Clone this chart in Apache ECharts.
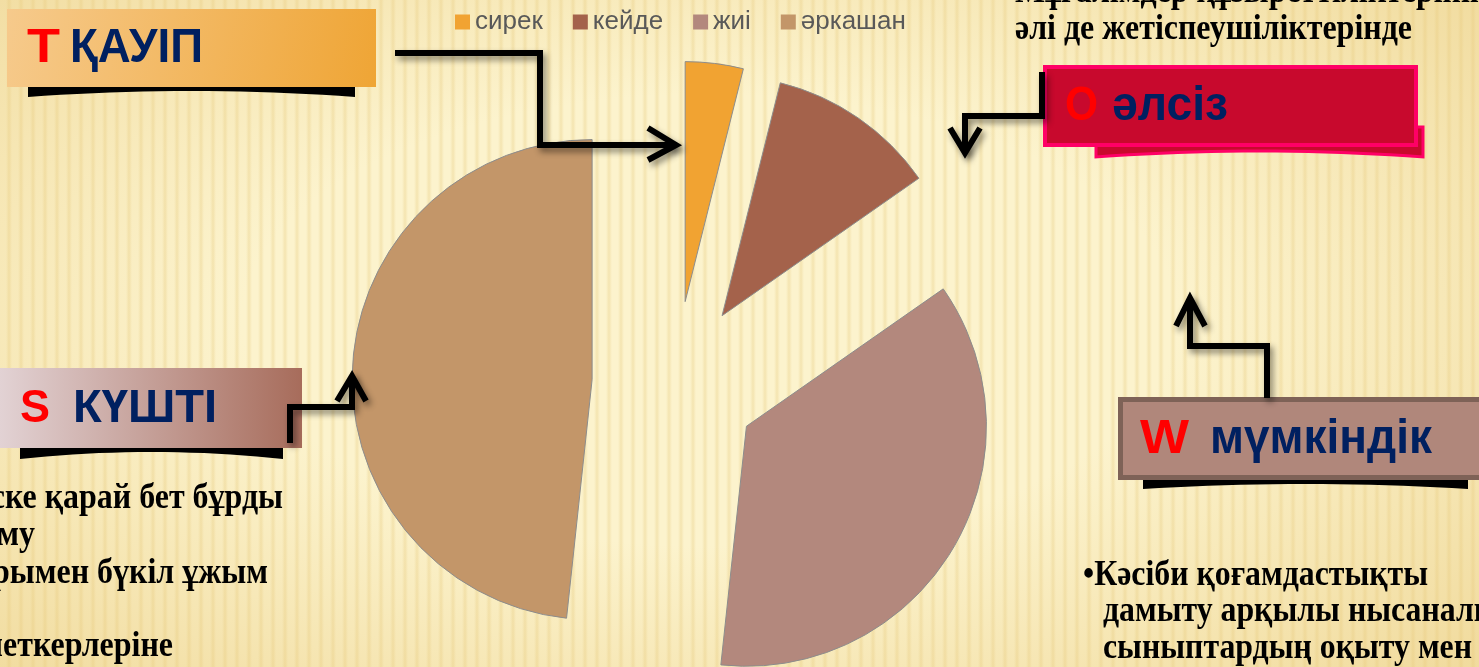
<!DOCTYPE html>
<html>
<head>
<meta charset="utf-8">
<title>SWOT</title>
<script src="https://cdn.jsdelivr.net/npm/echarts@6/dist/echarts.min.js"></script>
<style>
html, body { margin: 0; padding: 0; }
body {
  width: 1479px; height: 667px; overflow: hidden;
  background:
    radial-gradient(ellipse 70% 75% at 48% 48%, rgba(253,247,218,0) 45%, rgba(232,200,120,0.55) 100%),
    repeating-linear-gradient(90deg, #FCF3CD 0px, #FCF3CD 6px, #F4E4B0 9px, #FCF3CD 12px);
}
#chart { width: 1479px; height: 667px; }
</style>
</head>
<body>
<div id="chart"></div>
<script>
// данные диаграммы
var categories = ['сирек', 'кейде', 'жиі', 'әркашан'];
var shares = [3.9, 11.4, 36.4, 48.3];
var sliceColors = ['#F1A332', '#A4624B', '#B3887D', '#C39669'];

// тексты слайда
var topRightLines = ['Мұғалімдер құзыреттіліктерінің', 'әлі де жетіспеушіліктерінде'];
var bottomLeftLines = ['•Өзгеріске қарай бет бұрды', 'даму', 'жоспарымен бүкіл ұжым', 'қызметкерлеріне'];
var bottomRightLines = ['•Кәсіби қоғамдастықты', 'дамыту арқылы нысаналы', 'сыныптардың оқыту мен'];

var chart = echarts.init(document.getElementById('chart'));

var ctx = document.createElement('canvas').getContext('2d');
function measure(text, font) {
  ctx.font = font;
  return ctx.measureText(text).width;
}
function label(text, font, color, x, y, sx, align) {
  return {
    type: 'text', x: x, y: y, scaleX: sx, z: 120,
    style: { text: text, font: font, fill: color, align: align || 'left', verticalAlign: 'middle' }
  };
}
function fitLabel(text, font, color, x, y, width) {
  return label(text, font, color, x, y, width / measure(text, font));
}

var navy = '#002060';
var red = '#FF0000';
var serif = 'bold 36px "Liberation Serif"';
var sxTop = 397 / measure(topRightLines[1], serif);
var sxRight = 345 / measure(bottomRightLines[0], serif);

var arrowStyle = {
  stroke: '#000', lineWidth: 6, fill: null, lineJoin: 'miter',
  shadowBlur: 6, shadowOffsetX: 3, shadowOffsetY: 4, shadowColor: 'rgba(0,0,0,0.45)'
};
function arrow(points) {
  return { type: 'polyline', z: 110, shape: { points: points }, style: arrowStyle };
}
// полоса-тень под плашкой: верх прямой, низ выгнут
function curvedPoints(x1, x2, top, endBottom, midBottom) {
  var pts = [[x1, top], [x2, top]];
  for (var i = 0; i <= 20; i++) {
    var t = i / 20;
    var x = x2 + (x1 - x2) * t;
    var y = endBottom + (midBottom - endBottom) * 4 * t * (1 - t);
    pts.push([x, y]);
  }
  return pts;
}
function bar(x1, x2, top, endBottom, midBottom, style) {
  return {
    type: 'polygon', z: 105,
    shape: { points: curvedPoints(x1, x2, top, endBottom, midBottom) },
    style: style || { fill: '#000' }
  };
}

var elements = [
  // стрелки
  arrow([[395, 53], [540, 53], [540, 145], [676, 145]]),
  arrow([[648, 128], [676, 145], [648, 160]]),
  arrow([[1042, 72], [1042, 116], [965, 116], [965, 153]]),
  arrow([[950, 128], [965, 153], [980, 128]]),
  arrow([[290, 443], [290, 407], [352, 407], [352, 376]]),
  arrow([[337, 401], [352, 376], [366, 401]]),
  arrow([[1267, 398], [1267, 346], [1190, 346], [1190, 298]]),
  arrow([[1176, 326], [1190, 298], [1205, 326]]),

  // Т ҚАУІП
  bar(28, 355, 86, 97, 91),
  {
    type: 'rect', z: 106, shape: { x: 7, y: 9, width: 369, height: 78 },
    style: { fill: new echarts.graphic.LinearGradient(0, 0, 1, 1, [
      { offset: 0, color: '#F6CA8C' }, { offset: 1, color: '#EFA535' }]) }
  },
  fitLabel('Т', 'bold 49px "Liberation Sans"', red, 27, 48, 33),
  fitLabel('ҚАУІП', 'bold 49px "Liberation Sans"', navy, 70, 48, 133),

  // О әлсіз
  bar(1096, 1423, 127, 157, 151, { fill: '#C8092D', stroke: '#FF0066', lineWidth: 3 }),
  {
    type: 'rect', z: 106, shape: { x: 1045, y: 67, width: 371, height: 78 },
    style: { fill: '#C8092D', stroke: '#FF0066', lineWidth: 4 }
  },
  fitLabel('О', 'bold 49px "Liberation Sans"', red, 1065, 106, 33),
  fitLabel('әлсіз', 'bold 49px "Liberation Sans"', navy, 1112, 106, 116),

  // S КҮШТІ
  bar(20, 283, 446, 459, 452),
  {
    type: 'rect', z: 106, shape: { x: 0, y: 368, width: 302, height: 80 },
    style: { fill: new echarts.graphic.LinearGradient(0, 0, 1, 0, [
      { offset: 0, color: '#E2D2D4' }, { offset: 1, color: '#A76C5B' }]) }
  },
  fitLabel('S', 'bold 46px "Liberation Sans"', red, 20, 409, 30),
  fitLabel('КҮШТІ', 'bold 46px "Liberation Sans"', navy, 73, 409, 144),

  // W мүмкіндік
  bar(1143, 1468, 478, 489, 484),
  {
    type: 'rect', z: 106, shape: { x: 1120.5, y: 399.5, width: 380, height: 78 },
    style: { fill: '#B0877B', stroke: '#7E6257', lineWidth: 5 }
  },
  fitLabel('W', 'bold 49px "Liberation Sans"', red, 1140, 439, 49),
  fitLabel('мүмкіндік', 'bold 49px "Liberation Sans"', navy, 1210, 439, 222)
];

// тексты абзацев
elements.push(label(topRightLines[0], serif, '#000', 1015, -7, sxTop));
elements.push(label(topRightLines[1], serif, '#000', 1015, 30, sxTop));
var blEnds = [283, 35, 268, 173];
var blY = [499, 536, 574, 647];
bottomLeftLines.forEach(function (t, i) {
  elements.push(label(t, serif, '#000', blEnds[i], blY[i], sxTop, 'right'));
});
var brX = [1083, 1103, 1103];
var brY = [576, 612, 649];
bottomRightLines.forEach(function (t, i) {
  elements.push(label(t, serif, '#000', brX[i], brY[i], sxRight));
});

chart.setOption({
  backgroundColor: 'transparent',
  animation: false,
  color: sliceColors,
  legend: {
    data: categories,
    left: 455,
    top: 9,
    padding: 0,
    icon: 'rect',
    itemWidth: 15,
    itemHeight: 15,
    itemGap: 30,
    selectedMode: false,
    itemStyle: { borderWidth: 0 },
    textStyle: { fontFamily: 'Liberation Sans', fontSize: 26, color: '#595959', padding: [0, 0, 0, 0] }
  },
  graphic: { elements: elements },
  series: [{
    type: 'pie',
    center: [675, 384],
    radius: 240,
    startAngle: 90,
    clockwise: true,
    selectedMode: 'multiple',
    selectedOffset: 83,
    label: { show: false },
    labelLine: { show: false },
    emphasis: { disabled: true },
    itemStyle: { borderColor: '#8C8C8C', borderWidth: 1 },
    select: { itemStyle: { borderColor: '#8C8C8C', borderWidth: 1 } },
    data: categories.map(function (c, i) {
      return { name: c, value: shares[i], selected: true };
    })
  }]
});
</script>
</body>
</html>
